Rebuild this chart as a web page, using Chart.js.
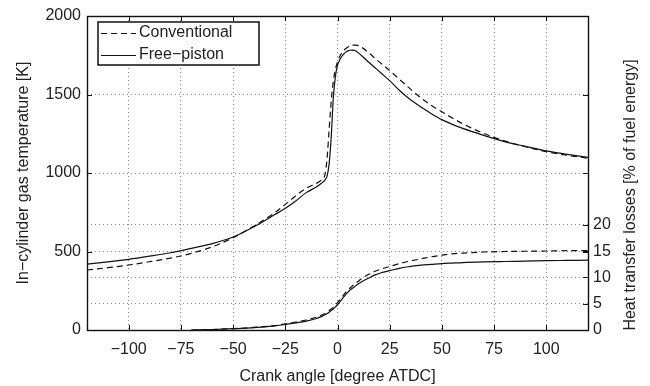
<!DOCTYPE html>
<html>
<head>
<meta charset="utf-8">
<script src="https://cdn.jsdelivr.net/npm/chart.js@4/dist/chart.umd.min.js"></script>
<style>
html,body{margin:0;padding:0;background:#fff;}
canvas{display:block;}
</style>
</head>
<body>
<canvas id="c" width="650" height="386"></canvas>
<script>
// ---- data ----
const angles = [-120,-110,-100,-90,-80,-70,-60,-50,-40,-30,-25,-20,-15,-10,-8,-7,-6,-5,-4,-3,-2,-1,0,1,2,3,4,5,6,7,8,9,10,12,15,18,21,25,30,35,40,45,50,55,60,70,80,90,100,110,120];
const tempConventional = [382,397,414,435,458,488,530,588,662,748,800,855,903,935,952,965,990,1090,1280,1460,1585,1660,1708,1740,1763,1780,1793,1803,1810,1814,1815,1814,1810,1797,1765,1730,1697,1652,1593,1534,1478,1430,1390,1350,1314,1252,1205,1167,1136,1113,1094];
const tempFreePiston = [420,434,450,470,492,520,550,592,658,735,775,822,875,912,932,942,955,980,1060,1230,1480,1615,1685,1718,1742,1758,1770,1778,1782,1783,1781,1776,1765,1742,1705,1670,1635,1588,1522,1466,1420,1378,1340,1310,1284,1240,1200,1170,1141,1119,1099];
const heatConventional = [null,null,null,null,null,0,0.1,0.25,0.5,0.85,1.15,1.5,1.9,2.45,2.75,2.95,3.15,3.4,3.7,4.0,4.35,4.75,5.2,5.7,6.2,6.7,7.2,7.6,8.0,8.35,8.7,9.0,9.3,9.9,10.6,11.2,11.6,12.1,12.7,13.15,13.55,13.95,14.25,14.5,14.65,14.85,14.95,15.0,15.05,15.1,15.1];
const heatFreePiston = [null,null,null,null,null,0,0.1,0.25,0.45,0.8,1.05,1.35,1.7,2.2,2.5,2.7,2.9,3.1,3.4,3.7,4.0,4.4,4.8,5.3,5.8,6.3,6.8,7.2,7.6,7.9,8.2,8.5,8.8,9.3,9.9,10.5,10.9,11.3,11.8,12.1,12.35,12.5,12.65,12.75,12.85,12.97,13.05,13.12,13.2,13.25,13.3];
const xTicks = [-100,-75,-50,-25,0,25,50,75,100];
const tempTicks = [0,500,1000,1500,2000];
const heatTicks = [0,5,10,15,20];
const seriesNames = ['Conventional','Free\u2212piston'];

const FONT = '"Liberation Sans", Arial, Helvetica, sans-serif';
const TXT = '#222';
const pts = v => angles.map((a,i)=>({x:a,y:v[i]}));
const fmt = v => String(v).replace('-','\u2212');

const deco = {
  id:'deco',
  afterDatasetsDraw(chart){
    const c = chart.ctx, a = chart.chartArea;
    const xs = chart.scales.x, ys = chart.scales.y, y2 = chart.scales.y2;
    c.save();
    c.strokeStyle = '#111'; c.lineWidth = 1; c.setLineDash([]);
    c.beginPath();
    xTicks.forEach(v=>{const p=Math.round(xs.getPixelForValue(v))+0.5;
      c.moveTo(p,a.bottom); c.lineTo(p,a.bottom-5);
      c.moveTo(p,a.top); c.lineTo(p,a.top+5);});
    tempTicks.forEach(v=>{const p=Math.round(ys.getPixelForValue(v))+0.5;
      c.moveTo(a.left,p); c.lineTo(a.left+5,p);
      c.moveTo(a.right,p); c.lineTo(a.right-5,p);});
    heatTicks.forEach(v=>{const p=Math.round(y2.getPixelForValue(v))+0.5;
      c.moveTo(a.right,p); c.lineTo(a.right-5,p);});
    c.stroke();
    c.lineWidth = 1.4;
    c.strokeRect(a.left+0.5, a.top+0.5, a.right-a.left, a.bottom-a.top);
    // legend
    const lx=98, ly=22, lw=161, lh=43;
    c.fillStyle='#fff'; c.fillRect(lx,ly,lw,lh);
    c.lineWidth=1.5; c.strokeStyle='#111'; c.strokeRect(lx,ly,lw,lh);
    c.lineWidth=1.2;
    c.setLineDash([6,4]);
    c.beginPath(); c.moveTo(101,33.5); c.lineTo(136,33.5); c.stroke();
    c.setLineDash([]);
    c.beginPath(); c.moveTo(101,55.5); c.lineTo(136,55.5); c.stroke();
    c.fillStyle=TXT; c.font='16px '+FONT; c.textBaseline='middle'; c.textAlign='left';
    c.fillText(seriesNames[0],139,33);
    c.fillText(seriesNames[1],139,55);
    // axis titles
    c.textAlign='center';
    c.fillText('Crank angle [degree ATDC]',(a.left+a.right)/2,377);
    c.save(); c.translate(23.5,173); c.rotate(-Math.PI/2);
    c.fillText('In\u2212cylinder gas temperature [K]',0,0); c.restore();
    c.save(); c.translate(631,195); c.rotate(-Math.PI/2);
    c.fillText('Heat transfer losses [% of fuel energy]',0,0); c.restore();
    c.restore();
  }
};

const lineBase = {borderColor:'#111', borderWidth:1.2, pointRadius:0, fill:false, cubicInterpolationMode:'monotone', spanGaps:false};

new Chart(document.getElementById('c'), {
  type:'line',
  data:{datasets:[
    Object.assign({label:seriesNames[0], data:pts(tempConventional), yAxisID:'y', borderDash:[6,4]}, lineBase),
    Object.assign({label:seriesNames[1], data:pts(tempFreePiston), yAxisID:'y'}, lineBase),
    Object.assign({label:seriesNames[0]+' heat', data:pts(heatConventional), yAxisID:'y2', borderDash:[6,4]}, lineBase),
    Object.assign({label:seriesNames[1]+' heat', data:pts(heatFreePiston), yAxisID:'y2'}, lineBase)
  ]},
  options:{
    responsive:false, animation:false, devicePixelRatio:1,
    layout:{padding:{top:16,left:0,right:0,bottom:0}},
    plugins:{legend:{display:false}, tooltip:{enabled:false}},
    scales:{
      x:{type:'linear', min:-120, max:120,
        afterBuildTicks:s=>{s.ticks=xTicks.map(v=>({value:v}));},
        afterFit:s=>{s.height=56;},
        ticks:{color:TXT, font:{family:FONT,size:16}, padding:10, maxRotation:0, callback:v=>fmt(v)},
        grid:{color:'#8a8a8a', lineWidth:1, drawTicks:false},
        border:{display:false, dash:[1,3]}},
      y:{type:'linear', position:'left', min:0, max:2000,
        afterBuildTicks:s=>{s.ticks=tempTicks.map(v=>({value:v}));},
        afterFit:s=>{s.width=87;},
        ticks:{color:TXT, font:{family:FONT,size:16}, padding:6, callback:v=>fmt(v)},
        grid:{color:c=>(c.tick&&(c.tick.value===0||c.tick.value===2000))?'rgba(0,0,0,0)':'#8a8a8a', lineWidth:1, drawTicks:false},
        border:{display:false, dash:[1,3]}},
      y2:{type:'linear', position:'right', min:0, max:59.8,
        afterBuildTicks:s=>{s.ticks=heatTicks.map(v=>({value:v}));},
        afterFit:s=>{s.width=62;},
        ticks:{color:TXT, font:{family:FONT,size:16}, padding:5, callback:v=>fmt(v)},
        grid:{color:c=>(c.tick&&(c.tick.value===0||c.tick.value===15))?'rgba(0,0,0,0)':'#8a8a8a', lineWidth:1, drawTicks:false, drawOnChartArea:true},
        border:{display:false, dash:[1,3]}}
    }
  },
  plugins:[deco]
});
</script>
</body>
</html>
